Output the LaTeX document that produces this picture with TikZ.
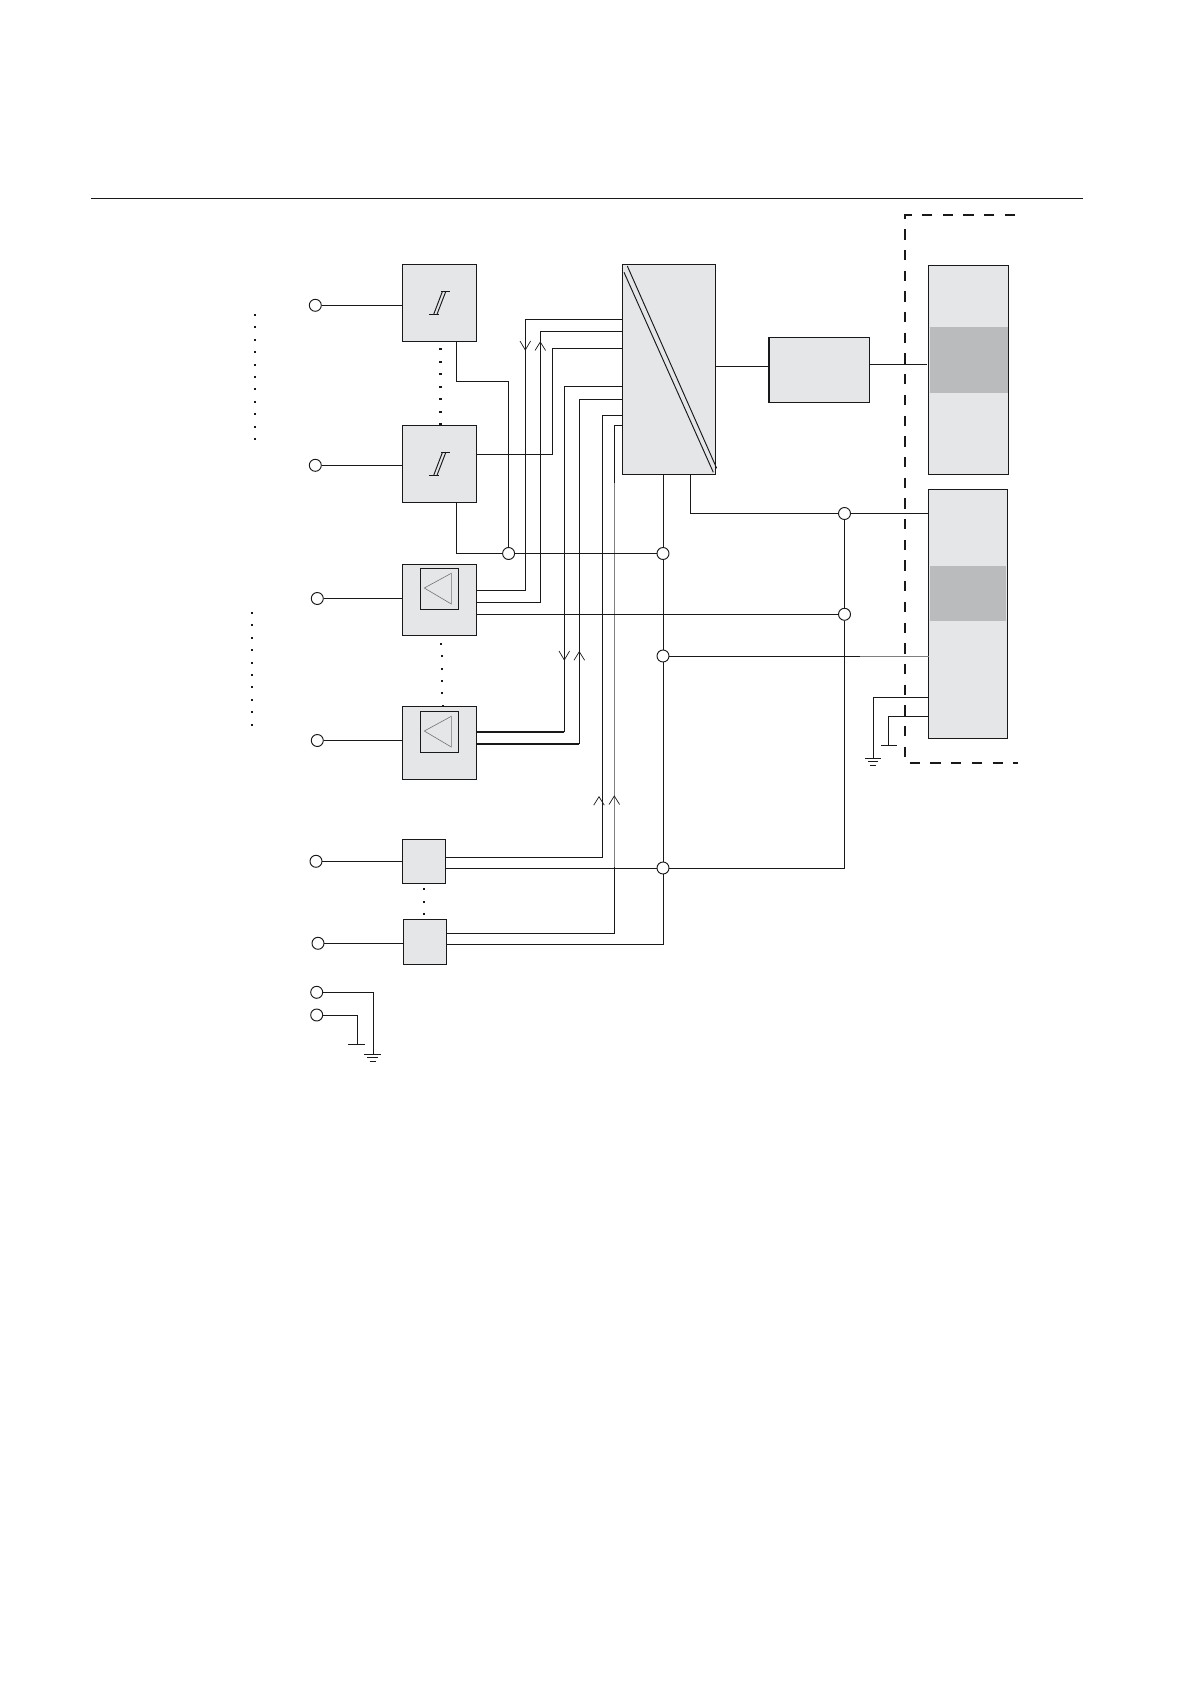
\documentclass[tikz,border=0pt]{standalone}
\usepackage{amsmath,amssymb,amsthm}

\definecolor{blockgray}{RGB}{229,230,232}
\definecolor{bandgray}{RGB}{185,187,189}
\definecolor{linegray}{RGB}{25,25,25}

\tikzset{
  wire/.style={line width=0.95pt,draw=linegray},
  heavywire/.style={line width=1.7pt,draw=linegray},
  palewire/.style={line width=0.95pt,draw=gray},
  block/.style={draw=linegray,fill=blockgray,line width=0.95pt,inner sep=0pt,outer sep=0pt},
  inset/.style={draw=linegray,line width=0.95pt,inner sep=0pt,outer sep=0pt},
  term/.style={circle,draw=linegray,fill=white,line width=0.95pt,inner sep=0pt,minimum size=12pt},
  frameline/.style={line width=2.1pt,draw=linegray,dash pattern=on 10.35pt off 10.35pt}
}

\begin{document}
\begin{tikzpicture}[x=1pt,y=-1pt]

\useasboundingbox (0,0) rectangle (1190,1684);

\coordinate (rulel) at (91,198.3);
\coordinate (ruler) at (1083,198.3);
\draw[line width=1.1pt,draw=linegray] (rulel) -- (ruler);

\node[block,minimum width=74.4pt,minimum height=77pt] (sa) at (439.5,302.8) {};
\node[block,minimum width=74.4pt,minimum height=77pt] (sb) at (439.5,463.8) {};
\node[block,minimum width=74.4pt,minimum height=71pt] (ampa) at (439.5,599.8) {};
\node[block,minimum width=74.4pt,minimum height=73pt] (ampb) at (439.5,742.8) {};
\node[block,minimum width=43.4pt,minimum height=44pt] (da) at (424,861.3) {};
\node[block,minimum width=43.4pt,minimum height=45pt] (db) at (425,941.8) {};
\node[block,minimum width=93.4pt,minimum height=210pt] (conv) at (669,369.3) {};
\node[block,minimum width=101.4pt,minimum height=65.3pt] (disp) at (819,369.7) {};
\node[block,minimum width=80.4pt,minimum height=209pt] (pa) at (968.5,369.8) {};
\node[block,minimum width=79pt,minimum height=249pt] (pb) at (967.8,613.8) {};

\node[inset,minimum width=38.4pt,minimum height=41pt] (ia) at (439.5,588.8) {};
\node[inset,minimum width=38.4pt,minimum height=41pt] (ib) at (439.5,731.8) {};

\fill[bandgray] (930,327) rectangle (1008.3,392.7);
\fill[bandgray] (930,566) rectangle (1006.4,621);

\draw[line width=1.8pt,draw=linegray] ([xshift=0.6pt]disp.north west) -- ([xshift=0.6pt]disp.south west);

\foreach \n in {sa,sb} {
  \begin{scope}[shift={(\n.center)}]
    \draw[wire] (1.5,-11.1) -- (10.5,-11.1);
    \draw[wire] (-10.5,11.5) -- (-0.5,11.5);
    \draw[wire] (-5.8,11.5) -- (2.8,-11.1);
    \draw[wire] (-2.5,11.5) -- (6.2,-11.1);
  \end{scope}
}

\foreach \n in {ia,ib} {
  \begin{scope}[shift={(\n.center)}]
    \draw[line width=0.6pt,draw=black!55] (-15.2,-0.8) -- (11.8,-15.5) -- (11.8,15.2) -- cycle;
  \end{scope}
}

\draw[wire] (627.3,266) -- (716.7,468.3);
\draw[wire] (624,272.3) -- (713.3,472.3);

\node[term] (ta) at (315.3,305.3) {};
\node[term] (tb) at (315.3,465.3) {};
\node[term] (tc) at (317.3,598.5) {};
\node[term] (td) at (317.3,740.5) {};
\node[term] (te) at (316,861.3) {};
\node[term] (tf) at (318,943.3) {};
\node[term] (tg) at (316.7,992.3) {};
\node[term] (th) at (316.7,1015) {};

\draw[wire] (ta) -- (ta -| sa.west);
\draw[wire] (tb) -- (tb -| sb.west);
\draw[wire] (tc) -- (tc -| ampa.west);
\draw[wire] (td) -- (td -| ampb.west);
\draw[wire] (te) -- (te -| da.west);
\draw[wire] (tf) -- (tf -| db.west);

\coordinate (gndl) at (373.3,1054);
\coordinate (gndm) at (357.3,1044.3);
\coordinate (gndr) at (873.3,758.3);
\coordinate (gnds) at (888.3,745.3);
\draw[wire] (tg) -| (gndl);
\draw[wire] (th) -| (gndm);
\draw[wire] (364,1054) -- (381,1054);
\draw[wire] (367,1057.7) -- (378.3,1057.7);
\draw[wire] (369.5,1061.3) -- (376,1061.3);
\draw[wire] (348,1044.3) -- (365,1044.3);

\draw[wire] (865.3,758.3) -- (881,758.3);
\draw[wire] (868,761.7) -- (878.3,761.7);
\draw[wire] (869.5,765) -- (876,765);
\draw[wire] (881,745.3) -- (897,745.3);

\coordinate (ca) at (622.3,319.3);
\coordinate (cb) at (622.3,331.3);
\coordinate (cc) at (622.3,348.3);
\coordinate (cd) at (622.3,386.3);
\coordinate (ce) at (622.3,399.3);
\coordinate (cf) at (622.3,415.3);
\coordinate (cg) at (622.3,425);

\coordinate (oa) at (476.7,590.3);
\coordinate (ob) at (476.7,602.3);
\coordinate (oc) at (476.7,614.3);
\coordinate (od) at (476.7,731.7);
\coordinate (oe) at (476.7,743.7);
\coordinate (of) at (445.7,857.3);
\coordinate (og) at (445.7,868);
\coordinate (oh) at (446.7,933.3);
\coordinate (oi) at (446.7,944.3);
\coordinate (oj) at (476.7,454.3);
\coordinate (sbot) at (456.7,341.3);
\coordinate (sbtm) at (456.7,502.3);
\coordinate (sbnd) at (508.6,381.3);

\node[term] (ja) at (508.6,553.5) {};
\node[term] (jb) at (663,553.5) {};
\node[term] (jc) at (663,656) {};
\node[term] (jd) at (663,868) {};
\node[term] (je) at (844.5,513.5) {};
\node[term] (jf) at (844.5,614.3) {};

\draw[wire] (ca) -- ++(-97,0) |- (oa);
\draw[wire] (cb) -- ++(-82,0) |- (ob);
\draw[wire] (cc) -- ++(-70,0) |- (oj);
\draw[wire] (cd) -- ++(-58,0) |- (od);
\draw[wire] (ce) -- ++(-43,0) |- (oe);
\draw[wire] (cf) -- ++(-20,0) |- (of);
\draw[wire] (cg) -- ++(-8.3,0) |- (oh);
\draw[palewire] (614,483) -- (614,867);
\draw[heavywire] (od) -- ++(87.6,0);
\draw[heavywire] (oe) -- ++(102.6,0);

\draw[wire] (oc) -- (jf);
\draw[wire] (og) -- (jd);
\draw[wire] (sbot) |- (sbnd) -- (ja);
\draw[wire] (sbtm) |- (ja);
\draw[wire] (ja) -- (jb);

\coordinate (cbot) at (663,474.3);
\coordinate (cout) at (690.3,474.3);
\coordinate (cr) at (715.7,366.3);
\coordinate (dl) at (768.3,366.3);
\coordinate (dr) at (869.7,364.3);
\coordinate (pl) at (927,364.3);
\draw[wire] (cbot) -- (jb);
\draw[wire] (jb) -- (jc);
\draw[wire] (jc) -- (jd);
\draw[wire] (jd) |- (oi);
\draw[wire] (cout) |- (je);
\draw[wire] (je) -- (je -| pb.west);
\draw[wire] (je) -- (jf);
\draw[wire] (jf) |- (jd);
\draw[wire] (jc) -- (jc -| pb.west);
\draw[palewire] (860,656) -- (929,656);

\draw[wire] (cr) -- (dl);
\draw[wire] (dr) -- (pl);

\coordinate (pc) at (928.3,697.3);
\coordinate (pd) at (928.3,716.3);
\draw[wire] (pc) -| (gndr);
\draw[wire] (pd) -| (gnds);

\foreach \x/\y in {525.3/350,564.3/660} {
  \draw[line width=0.7pt,draw=linegray] (\x-5.3,\y-9) -- (\x,\y) -- (\x+5.3,\y-9);
}
\foreach \x/\y in {540.3/342,579.3/651.7,599/796.7,614.3/796} {
  \draw[line width=0.7pt,draw=linegray] (\x-5.3,\y+8.5) -- (\x,\y) -- (\x+5.3,\y+8.5);
}

\foreach \i in {0,...,10} {
  \fill[linegray] (254,315+12.4*\i-1) rectangle ++(2,2);
}
\foreach \i in {0,...,9} {
  \fill[linegray] (251,613+12.4*\i-1) rectangle ++(2,2);
}
\foreach \i in {0,...,6} {
  \fill[linegray] (438.8,349+12.5*\i-1) rectangle ++(3,2);
}
\foreach \i in {0,...,5} {
  \fill[linegray] (440.3+0.25*\i,644+12.35*\i-1) rectangle ++(2,2);
}
\foreach \i in {0,...,2} {
  \fill[linegray] (423,889+12.5*\i-1) rectangle ++(2,2);
}

\draw[frameline] (1015,215) -- (905,215) -- (905,762.7) -- (1018,762.7);

\end{tikzpicture}
\end{document}
